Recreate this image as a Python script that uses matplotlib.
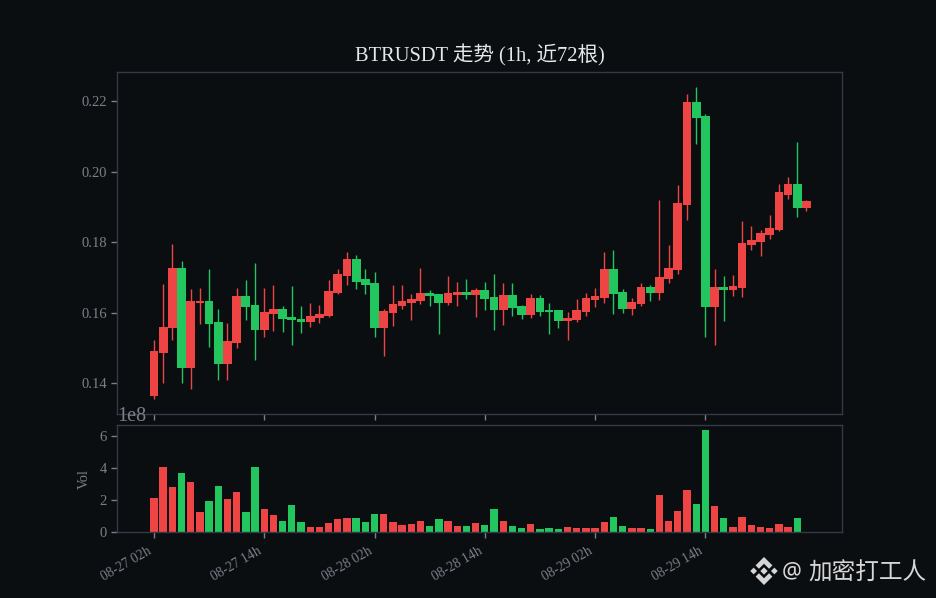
import numpy as np
import matplotlib
matplotlib.use('Agg')
import matplotlib.pyplot as plt
from matplotlib.patches import Polygon

BG = '#0b0e11'
SPINE = '#333a47'
TICK = '#7a808a'
UP = '#ef4444'
DOWN = '#22c55e'

plt.rcParams['font.family'] = ['Liberation Serif', 'Noto Sans CJK SC']

open_ = [0.1365, 0.1487, 0.1556, 0.1728, 0.1445, 0.1629, 0.1634, 0.1574, 0.1456, 0.1516,
         0.1648, 0.1623, 0.1553, 0.1598, 0.1611, 0.1589, 0.1583, 0.1575, 0.1587, 0.1592,
         0.1658, 0.1706, 0.1753, 0.1696, 0.1685, 0.1558, 0.1601, 0.1621, 0.1629, 0.1635,
         0.1657, 0.1654, 0.1629, 0.1652, 0.1660, 0.1652, 0.1665, 0.1645, 0.1609, 0.1651,
         0.1620, 0.1595, 0.1643, 0.1609, 0.1609, 0.1578, 0.1581, 0.1604, 0.1638, 0.1643,
         0.1725, 0.1660, 0.1612, 0.1626, 0.1674, 0.1658, 0.1697, 0.1723, 0.1907, 0.2199,
         0.2159, 0.1618, 0.1674, 0.1666, 0.1672, 0.1794, 0.1802, 0.1822, 0.1836, 0.1936,
         0.1966, 0.1899]
high = [0.1523, 0.1682, 0.1796, 0.1748, 0.1668, 0.1671, 0.1725, 0.1611, 0.1572, 0.1671,
        0.1694, 0.1742, 0.1671, 0.1680, 0.1620, 0.1677, 0.1620, 0.1628, 0.1623, 0.1694,
        0.1725, 0.1773, 0.1765, 0.1725, 0.1716, 0.1611, 0.1680, 0.1680, 0.1654, 0.1728,
        0.1665, 0.1654, 0.1705, 0.1688, 0.1696, 0.1671, 0.1688, 0.1711, 0.1685, 0.1685,
        0.1623, 0.1654, 0.1651, 0.1628, 0.1609, 0.1603, 0.1640, 0.1657, 0.1671, 0.1773,
        0.1779, 0.1668, 0.1643, 0.1685, 0.1680, 0.1921, 0.1793, 0.1963, 0.2221, 0.2241,
        0.2165, 0.1725, 0.1705, 0.1708, 0.1861, 0.1847, 0.1835, 0.1878, 0.1966, 0.1986,
        0.2085, 0.1921]
low = [0.1357, 0.1402, 0.1522, 0.1400, 0.1383, 0.1570, 0.1504, 0.1411, 0.1411, 0.1502,
       0.1581, 0.1468, 0.1533, 0.1550, 0.1547, 0.1510, 0.1544, 0.1561, 0.1573, 0.1590,
       0.1655, 0.1680, 0.1668, 0.1655, 0.1533, 0.1479, 0.1564, 0.1612, 0.1581, 0.1626,
       0.1621, 0.1541, 0.1624, 0.1621, 0.1641, 0.1590, 0.1609, 0.1553, 0.1567, 0.1592,
       0.1584, 0.1587, 0.1592, 0.1539, 0.1556, 0.1522, 0.1575, 0.1592, 0.1618, 0.1629,
       0.1598, 0.1601, 0.1595, 0.1621, 0.1635, 0.1638, 0.1686, 0.1712, 0.1865, 0.2080,
       0.1533, 0.1510, 0.1578, 0.1649, 0.1646, 0.1780, 0.1763, 0.1811, 0.1833, 0.1924,
       0.1871, 0.1890]
close = [0.1492, 0.1560, 0.1728, 0.1445, 0.1634, 0.1634, 0.1570, 0.1456, 0.1521, 0.1648,
         0.1618, 0.1553, 0.1603, 0.1611, 0.1584, 0.1581, 0.1575, 0.1591, 0.1597, 0.1662,
         0.1711, 0.1753, 0.1689, 0.1680, 0.1558, 0.1606, 0.1626, 0.1634, 0.1640, 0.1657,
         0.1649, 0.1629, 0.1657, 0.1660, 0.1652, 0.1665, 0.1641, 0.1609, 0.1651, 0.1615,
         0.1595, 0.1643, 0.1604, 0.1604, 0.1578, 0.1586, 0.1609, 0.1643, 0.1648, 0.1725,
         0.1655, 0.1612, 0.1631, 0.1674, 0.1658, 0.1702, 0.1728, 0.1912, 0.2199, 0.2154,
         0.1618, 0.1674, 0.1666, 0.1677, 0.1799, 0.1807, 0.1827, 0.1841, 0.1943, 0.1966,
         0.1899, 0.1918]
# volume in units of 1e8
volume = [2.15, 4.08, 2.83, 3.71, 3.15, 1.27, 1.96, 2.90, 2.08, 2.52,
          1.27, 4.08, 1.46, 1.08, 0.71, 1.71, 0.65, 0.33, 0.33, 0.58,
          0.83, 0.90, 0.90, 0.65, 1.15, 1.15, 0.65, 0.46, 0.52, 0.71,
          0.40, 0.83, 0.71, 0.40, 0.40, 0.58, 0.46, 1.46, 0.71, 0.40,
          0.27, 0.52, 0.21, 0.27, 0.21, 0.33, 0.27, 0.27, 0.27, 0.65,
          0.96, 0.40, 0.27, 0.27, 0.21, 2.33, 0.71, 1.33, 2.65, 1.77,
          6.40, 1.65, 0.90, 0.33, 0.96, 0.46, 0.33, 0.27, 0.52, 0.33,
          0.90, 0.0]
tick_pos = [0, 12, 24, 36, 48, 60]
tick_labels = ['08-27 02h', '08-27 14h', '08-28 02h', '08-28 14h', '08-29 02h', '08-29 14h']

o = np.array(open_)
c = np.array(close)
x = np.arange(len(o))
colors = [UP if b >= a else DOWN for a, b in zip(o, c)]

fig = plt.figure(figsize=(9.36, 5.98), dpi=100, facecolor=BG)
ax1 = fig.add_axes([0.1252, 0.3072, 0.7746, 0.5716])
ax2 = fig.add_axes([0.1252, 0.1099, 0.7746, 0.1794])

# Candles
ax1.vlines(x, low, high, colors=colors, linewidth=1, zorder=2)
ax1.bar(x, np.abs(c - o), bottom=np.minimum(o, c), width=0.95, color=colors, zorder=3)
ax1.set_xlim(-4.0, 74.89)
ax1.set_ylim(0.13126, 0.22823)
ax1.set_title('BTRUSDT 走势 (1h, 近72根)', color='#e5e7eb', fontsize=14.8, pad=8)

# Volume
ax2.bar(x, np.array(volume) * 1e8, width=0.8, color=colors)
ax2.set_xlim(-4.0, 74.89)
ax2.set_ylim(0, 6.72e8)
ax2.set_yticks([0, 2e8, 4e8, 6e8])
ax2.set_ylabel('Vol', color=TICK, fontsize=10.5, labelpad=6)
ax2.yaxis.get_offset_text().set_fontsize(14.5)
ax2.yaxis.get_offset_text().set_color(TICK)

for ax in (ax1, ax2):
    ax.set_facecolor(BG)
    ax.set_xticks(tick_pos)
    ax.tick_params(colors=TICK, labelsize=10.5, length=4, width=1)
    for s in ax.spines.values():
        s.set_color(SPINE)
        s.set_linewidth(1.0)
ax1.tick_params(axis='x', labelbottom=False)
ax1.set_yticks([0.14, 0.16, 0.18, 0.20, 0.22])
ax1.set_yticklabels(['0.14', '0.16', '0.18', '0.20', '0.22'])
ax2.tick_params(axis='x', pad=5)
ax2.set_xticklabels(tick_labels, rotation=30, ha='right', fontsize=9.8)

# Watermark
wm = '#d6d6d6'
logo = fig.add_axes([750 / 936, 1 - 585 / 598, 28 / 936, 28 / 598])
logo.axis('off')
logo.set_xlim(-1, 1)
logo.set_ylim(-1, 1)
for shape in ([(0, .26), (.26, 0), (0, -.26), (-.26, 0)],
              [(-.98, 0), (-.74, .24), (-.5, 0), (-.74, -.24)],
              [(.98, 0), (.74, .24), (.5, 0), (.74, -.24)],
              [(0, 1), (.6, .4), (.36, .16), (0, .52), (-.36, .16), (-.6, .4)],
              [(0, -1), (.6, -.4), (.36, -.16), (0, -.52), (-.36, -.16), (-.6, -.4)]):
    logo.add_patch(Polygon(shape, closed=True, color=wm, lw=0))
fig.text(782 / 936, 1 - 572 / 598, '@', color=wm, fontsize=16, va='center', family='Noto Sans')
fig.text(808 / 936, 1 - 573 / 598, '加密打工人', color=wm, fontsize=17, va='center',
         family='Noto Sans CJK SC')

fig.savefig('out.png', dpi=100, facecolor=BG)
